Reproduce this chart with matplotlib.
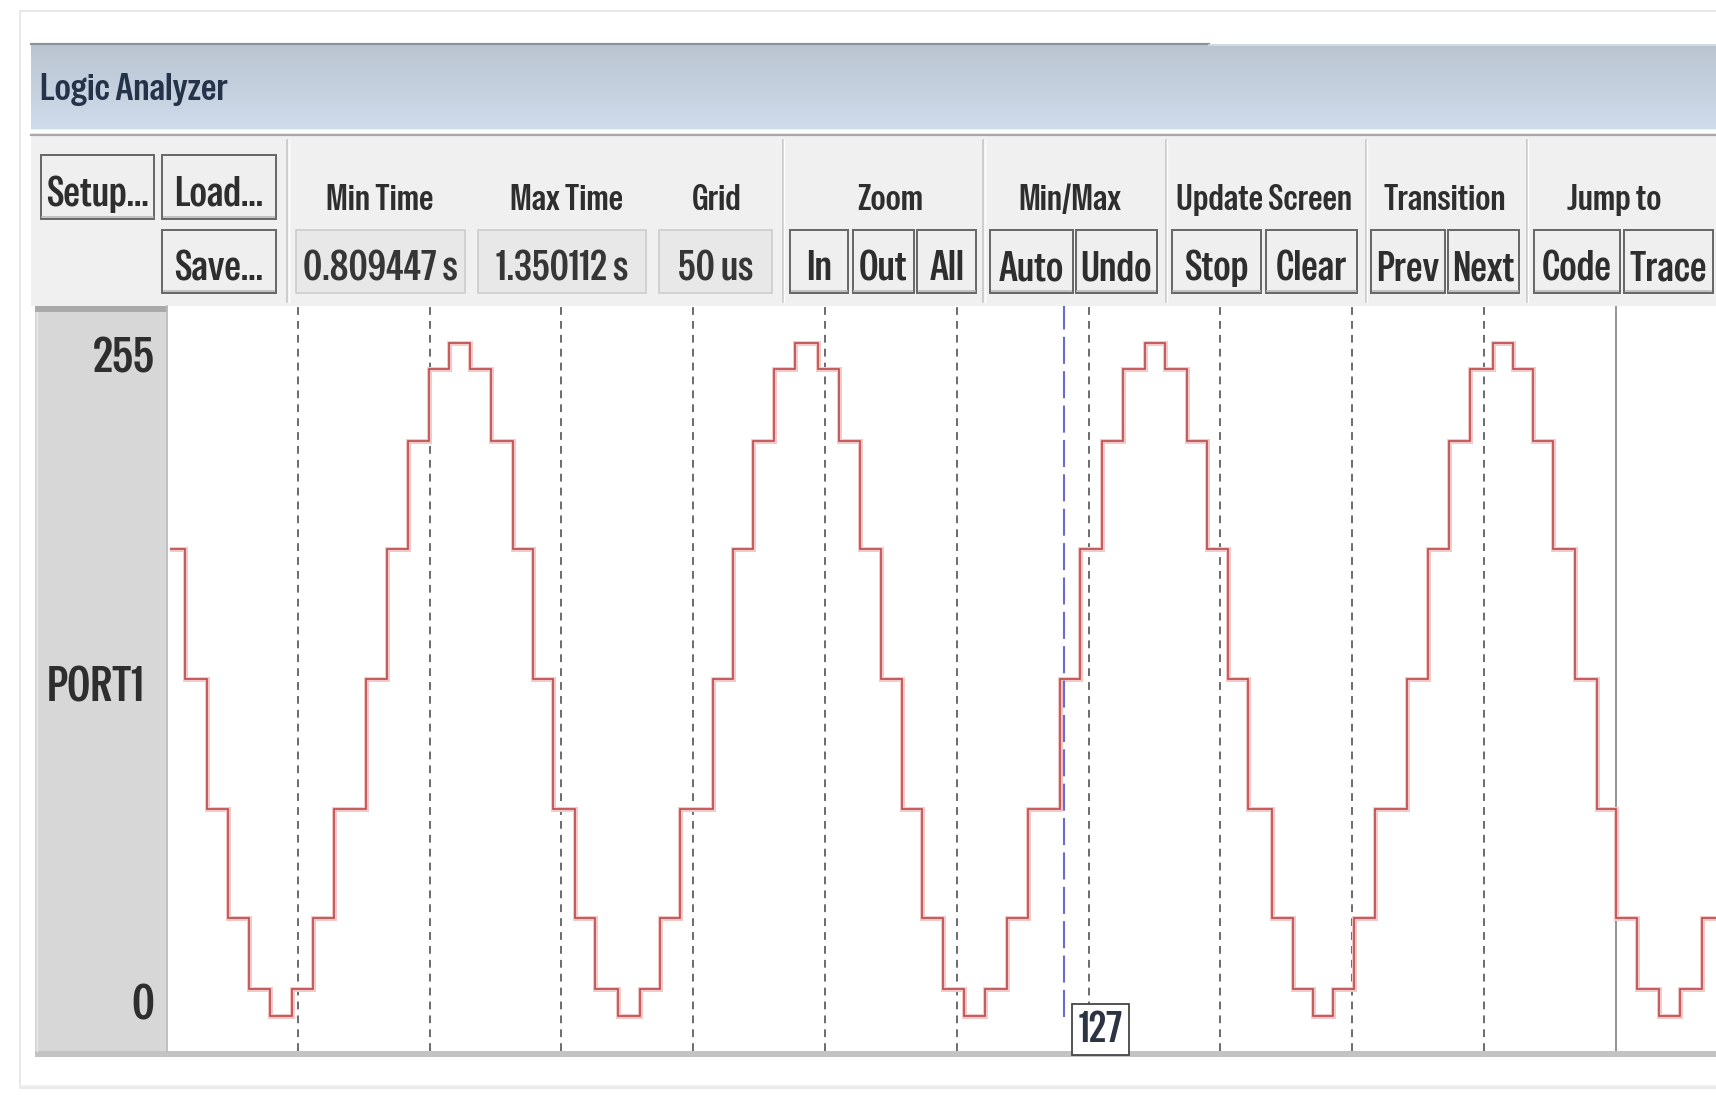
import os
import matplotlib
matplotlib.use("Agg")
import numpy as np
import matplotlib.pyplot as plt
from matplotlib.patches import Rectangle
from matplotlib import font_manager
from matplotlib.font_manager import FontProperties

# ---------------- data ----------------
# time of each value change (microseconds inside the visible window)
transition_times_us = [7.3, 15.5, 23.7, 31.6, 39.5, 47.7, 55.9, 63.8, 75.9, 84.0,
                       92.0, 99.9, 107.5, 115.4, 123.2, 131.8, 139.4, 147.0, 155.2, 162.8,
                       171.6, 179.9, 187.4, 195.0, 207.7, 215.3, 222.8, 230.8, 238.7, 247.5,
                       255.5, 263.3, 271.2, 279.1, 286.7, 294.9, 302.8, 310.7, 319.0, 327.2,
                       339.2, 346.8, 355.0, 363.2, 371.4, 379.0, 387.3, 395.1, 403.0, 410.6,
                       419.5, 427.7, 435.3, 442.9, 450.5, 458.7, 470.7, 478.9, 486.9, 494.7,
                       503.3, 510.9, 518.7, 526.3, 534.6, 542.8, 550.1, 558.0, 566.2, 574.4,
                       582.6]
# PORT1 value after each change
port1_values = [127, 78, 37, 10, 0, 10, 37, 78, 127, 176, 217, 244, 254, 244, 217, 176,
                127, 78, 37, 10, 0, 10, 37, 78, 127, 176, 217, 244, 254, 244, 217, 176,
                127, 78, 37, 10, 0, 10, 37, 78, 127, 176, 217, 244, 254, 244, 217, 176,
                127, 78, 37, 10, 0, 10, 37, 78, 127, 176, 217, 244, 254, 244, 217, 176,
                127, 78, 37, 10, 0, 10, 37]
port1_start_value = 176
window_us = [1.4, 588.0]
y_range = [-13.2, 267.8]
grid_times_us = [50, 100, 150, 200, 250, 300, 350, 400, 450, 500]
marker_time_us = 550
cursor_time_us = 340.6
cursor_label = "127"
signal_name = "PORT1"
range_labels = ["255", "0"]

title = "Logic Analyzer"
toolbar_groups = ["Min Time", "Max Time", "Grid", "Zoom", "Min/Max",
                  "Update Screen", "Transition", "Jump to"]
field_values = ["0.809447 s", "1.350112 s", "50 us"]

# ---------------- fonts: use the narrowest regular sans available ----------------
def candidate_fonts():
    cands = []
    seen = set()
    for f in font_manager.fontManager.ttflist:
        b = os.path.basename(f.fname).lower()
        if f.style != "normal":
            continue
        if not (f.weight in (400, "normal", "regular")):
            continue
        rest = b.replace("semicondensed", "").replace("condensed", "").replace("narrow", "")
        if any(k in rest for k in ["bold", "italic", "oblique", "light", "thin",
                                   "black", "medium", "extra", "ultra", "mono", "cjk",
                                   "serif", "math", "symbol", "display", "semi"]):
            continue
        if f.fname in seen:
            continue
        fam = f.name.lower()
        narrow = ("condensed" in b or "narrow" in b)
        if narrow or fam in ("liberation sans", "roboto", "dejavu sans", "noto sans",
                             "open sans", "lato", "inter"):
            seen.add(f.fname)
            cands.append(f.fname)
    return cands

W, H = 1716, 1096
fig = plt.figure(figsize=(W / 100, H / 100), dpi=100)
fig.patch.set_facecolor("white")
renderer = fig.canvas.get_renderer()

def width_at(fp, s, size=20):
    t = fig.text(0, 0, s, fontproperties=fp, fontsize=size)
    w = t.get_window_extent(renderer).width
    t.remove()
    return w

best_fp, best_w = FontProperties(family="DejaVu Sans"), None
for fn in candidate_fonts():
    try:
        fp = FontProperties(fname=fn)
        w = width_at(fp, "Min Time Setup PORT1")
    except Exception:
        continue
    if w > 1 and (best_w is None or w < best_w):
        best_fp, best_w = fp, w
FP = best_fp

def fit_size(s, target_px):
    return 20.0 * target_px / width_at(FP, s, 20)

SZ_GROUP = fit_size("Min Time", 107)
SZ_BTN = fit_size("Setup...", 102)
SZ_TITLE = fit_size(title, 188)
SZ_SIDE = fit_size(signal_name, 98)
SZ_CUR = fit_size(cursor_label, 44)

TXT = "#2e2e2e"

# UI layer in pixel coordinates
ui = fig.add_axes([0, 0, 1, 1], zorder=0)
ui.set_xlim(0, W)
ui.set_ylim(H, 0)
ui.axis("off")

def label(x, cap_center_y, s, size, ha="center", color=TXT, z=3):
    em = size * 100.0 / 72.0
    ui.text(x, cap_center_y + 0.36 * em, s, fontproperties=FP, fontsize=size,
            color=color, ha=ha, va="baseline", zorder=z)

def rect(x0, y0, x1, y1, fc, ec="none", lw=0, z=1):
    ui.add_patch(Rectangle((x0, y0), x1 - x0, y1 - y0, fc=fc, ec=ec, lw=lw, zorder=z))

# outer faint frame
rect(20, 11, W + 5, 1088, fc="white", ec="#e4e4e4", lw=1.2, z=0.5)

# title bar gradient
grad = np.linspace(0, 1, 64)[:, None]
c_top = np.array([0.73, 0.77, 0.82])
c_bot = np.array([0.81, 0.86, 0.92])
img = c_top[None, None, :] * (1 - grad[..., None]) + c_bot[None, None, :] * grad[..., None]
img = np.repeat(img, 2, axis=1)
ui.imshow(img, extent=(31, W, 129, 44), aspect="auto", origin="upper", zorder=1)
ui.plot([31, 1209], [44, 44], color="#8c939b", lw=1.6, zorder=2)
ui.plot([1209, W], [45, 45], color="#d6dde4", lw=1.2, zorder=2)
label(40, 86, title, SZ_TITLE, ha="left", color="#24324a")

# toolbar background
rect(31, 129, W, 306, fc="#f0f0f0", z=1)
ui.plot([31, W], [131, 131], color="#ffffff", lw=2, zorder=2)
ui.plot([31, W], [134.5, 134.5], color="#a8a8a8", lw=1.6, zorder=2)

R1 = (155, 219)
R2 = (230, 293)

def button(x0, x1, y0, y1, s):
    rect(x0, y0, x1, y1, fc="#efefef", ec="#666666", lw=1.4, z=2)
    ui.plot([x0 + 1.5, x1 - 1.5], [y1 - 2.2, y1 - 2.2], color="#b8b8b8", lw=1.2, zorder=2.5)
    label((x0 + x1) / 2, (y0 + y1) / 2 + 4, s, SZ_BTN)

def field(x0, x1, y0, y1, s):
    rect(x0, y0, x1, y1, fc="#e8e8e8", ec="#cdcdcd", lw=1.2, z=2)
    label((x0 + x1) / 2, (y0 + y1) / 2 + 4, s, SZ_BTN, color="#363636")

def sep(x):
    ui.plot([x, x], [140, 302], color="#c6c6c6", lw=1.2, zorder=2)
    ui.plot([x + 1.5, x + 1.5], [140, 302], color="#ffffff", lw=1.0, zorder=2)

button(40.5, 154.3, *R1, "Setup...")
button(162, 275.8, *R1, "Load...")
button(162, 275.8, *R2, "Save...")
sep(287)

group_centres = [380, 566, 717, 890, 1070, 1264, 1445, 1614]
for gx, g in zip(group_centres, toolbar_groups):
    label(gx, 197, g, SZ_GROUP)

field(295.5, 465.1, *R2, field_values[0])
field(478.3, 645.7, *R2, field_values[1])
field(658.8, 771.6, *R2, field_values[2])
sep(782.5)
button(790.2, 848.2, *R2, "In")
button(852.5, 913.8, *R2, "Out")
button(917.1, 976.2, *R2, "All")
sep(983)
button(990.4, 1072.5, *R2, "Auto")
button(1075.8, 1156.8, *R2, "Undo")
sep(1165.6)
button(1171.5, 1261.1, *R2, "Stop")
button(1265.5, 1357, *R2, "Clear")
sep(1365.8)
button(1371.3, 1444.6, *R2, "Prev")
button(1447.9, 1519, *R2, "Next")
sep(1526.7)
button(1534.3, 1619.8, *R2, "Code")
button(1624.2, 1712.7, *R2, "Trace")

# signal-name panel
rect(35, 306, 167.5, 1051, fc="#d7d7d7", z=1)
rect(35, 306, 167.5, 312, fc="#a9a9a9", z=1.5)
ui.plot([37, 37], [312, 1051], color="#e6e6e6", lw=1.0, zorder=2)
ui.plot([167, 167], [306, 1051], color="#bdbdbd", lw=1.2, zorder=2)
label(154, 355, range_labels[0], SZ_SIDE, ha="right")
label(96, 684, signal_name, SZ_SIDE)
label(154, 1002, range_labels[1], SZ_SIDE, ha="right")

# bottom bar
rect(35, 1050.6, W, 1057, fc="#c3c3c3", z=1)
ui.plot([20, W], [1086, 1086], color="#ededed", lw=1.2, zorder=1)

# ---------------- waveform axes ----------------
left, right, top, bottom = 169.6, 1716, 306, 1050.6
ax = fig.add_axes([left / W, 1 - bottom / H, (right - left) / W, (bottom - top) / H], zorder=2)
ax.set_facecolor("white")
ax.set_xlim(*window_us)
ax.set_ylim(*y_range)
for s in ax.spines.values():
    s.set_visible(False)
ax.set_xticks([])
ax.set_yticks([])

for g in grid_times_us:
    ax.axvline(g, color="#5a5a5a", lw=1.25, dashes=(4.5, 3.5), zorder=1)
ax.axvline(marker_time_us, color="#777777", lw=1.1, zorder=1)

xs = [window_us[0]] + transition_times_us + [window_us[1]]
ys = [port1_start_value] + port1_values + [port1_values[-1]]
ax.step(xs, ys, where="post", color="#f3c8c8", lw=3.6, zorder=2, solid_joinstyle="miter")
ax.step(xs, ys, where="post", color="#b84040", lw=1.1, zorder=3, solid_joinstyle="miter")

ax.axvline(cursor_time_us, ymin=0.045, ymax=1.0, color="#6a6ad0", lw=1.5, dashes=(13, 3.5), zorder=4)
ax.annotate(cursor_label, xy=(cursor_time_us, 0), xycoords=("data", "axes fraction"),
            xytext=(15, 2), textcoords="offset pixels", ha="left", va="bottom",
            fontproperties=FP, fontsize=SZ_CUR, color="#2c3444", zorder=5,
            bbox=dict(boxstyle="square,pad=0.15", fc="white", ec="#454545", lw=1.3))

fig.savefig("out.png", dpi=100, facecolor="white")
